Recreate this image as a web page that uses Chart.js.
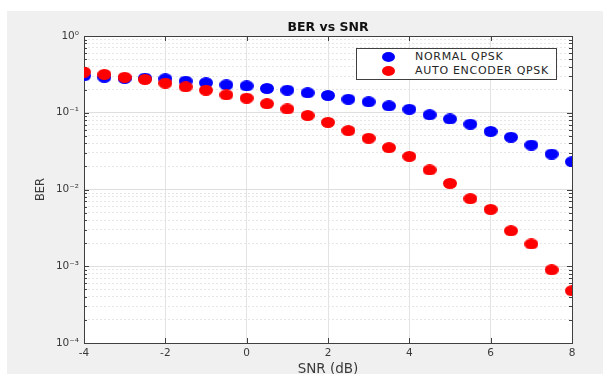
<!DOCTYPE html>
<html>
<head>
<meta charset="utf-8">
<script src="https://cdn.jsdelivr.net/npm/chart.js@4/dist/chart.umd.min.js"></script>
<style>
html, body { margin: 0; padding: 0; background: #fff; overflow: hidden; }
#wrap { position: relative; width: 603px; height: 380px; }
#legend { position: absolute; left: 356px; top: 48px; width: 199px; height: 30px; border: 1px solid #404040; background: #fff;
  font: 11px "DejaVu Sans", sans-serif; letter-spacing: 0.7px; color: #262626; }
.item { position: absolute; left: 0; height: 14px; line-height: 14px; white-space: nowrap; }
.dot { position: absolute; left: 25px; top: 2px; width: 13px; height: 10px; border-radius: 50%; }
.txt { position: absolute; left: 58px; top: 0; }
</style>
</head>
<body>
<div id="wrap">
  <canvas id="ber" width="603" height="380"></canvas>
  <div id="legend"></div>
</div>
<script>
// --- data ---
const snr = [-4, -3.5, -3, -2.5, -2, -1.5, -1, -0.5, 0, 0.5, 1, 1.5, 2, 2.5, 3, 3.5, 4, 4.5, 5, 5.5, 6, 6.5, 7, 7.5, 8];
const normalQpsk = [0.303, 0.29, 0.28, 0.283, 0.277, 0.258, 0.246, 0.231, 0.224, 0.207, 0.197, 0.182, 0.168,
  0.150, 0.139, 0.123, 0.111, 0.094, 0.083, 0.071, 0.057, 0.048, 0.038, 0.029, 0.023];
const autoEncoderQpsk = [0.339, 0.316, 0.29, 0.272, 0.243, 0.218, 0.197, 0.171, 0.155, 0.131, 0.112, 0.092, 0.075,
  0.0585, 0.0465, 0.0351, 0.027, 0.018, 0.012, 0.0076, 0.0055, 0.0029, 0.00195, 0.0009, 0.00048];
const seriesNames = ['NORMAL QPSK', 'AUTO ENCODER QPSK'];
const seriesColors = ['#0000ff', '#ff0000'];
const decades = [-4, -3, -2, -1, 0];
const xTicks = [-4, -2, 0, 2, 4, 6, 8];

const FONT = '"DejaVu Sans", "Liberation Sans", sans-serif';
const SUP = { '0': '\u2070', '1': '\u00b9', '2': '\u00b2', '3': '\u00b3', '4': '\u2074', '-': '\u207b' };
const isMajor = v => Math.abs(Math.log10(v) - Math.round(Math.log10(v))) < 1e-9;

// slightly squashed dots, like the stretched figure
function dotImage(color) {
    const c = document.createElement('canvas');
    c.width = 14; c.height = 11;
    const g = c.getContext('2d');
    g.fillStyle = color;
    g.beginPath(); g.ellipse(7, 5.5, 7, 5.5, 0, 0, Math.PI * 2); g.fill();
    return c;
}

// y tick positions: 1..9 x 10^e for every decade
const yTickVals = [];
decades.forEach(e => {
    if (e === 0) { yTickVals.push(1); return; }
    for (let m = 1; m <= 9; m++) yTickVals.push(+(m * Math.pow(10, e)).toPrecision(3));
});

const figureBg = {
    id: 'figureBg',
    beforeDraw(chart) {
        const { ctx, chartArea: a } = chart;
        ctx.save();
        ctx.fillStyle = '#fff';
        ctx.fillRect(0, 0, chart.width, chart.height);
        ctx.fillStyle = '#f0f0f0';
        ctx.fillRect(7, 11, chart.width - 7, chart.height - 11);
        ctx.fillStyle = '#fff';
        ctx.fillRect(a.left, a.top, a.right - a.left, a.bottom - a.top);
        ctx.restore();
    }
};

const axesBox = {
    id: 'axesBox',
    beforeDatasetsDraw(chart) {
        const { ctx, chartArea: a, scales } = chart;
        ctx.save();
        ctx.strokeStyle = '#404040';
        ctx.lineWidth = 1;
        ctx.beginPath();
        scales.x.ticks.forEach(t => {
            const px = Math.round(scales.x.getPixelForValue(t.value)) + 0.5;
            ctx.moveTo(px, a.bottom); ctx.lineTo(px, a.bottom - 5);
            ctx.moveTo(px, a.top); ctx.lineTo(px, a.top + 5);
        });
        scales.y.ticks.forEach(t => {
            const py = Math.round(scales.y.getPixelForValue(t.value)) + 0.5;
            const len = isMajor(t.value) ? 5 : 3;
            ctx.moveTo(a.left, py); ctx.lineTo(a.left + len, py);
            ctx.moveTo(a.right, py); ctx.lineTo(a.right - len, py);
        });
        ctx.stroke();
        ctx.strokeRect(Math.round(a.left) + 0.5, Math.round(a.top) + 0.5,
            Math.round(a.right - a.left), Math.round(a.bottom - a.top));
        ctx.restore();
    }
};

Chart.defaults.font.family = FONT;
Chart.defaults.color = '#3a3a3a';

const series = [normalQpsk, autoEncoderQpsk];
const chart = new Chart(document.getElementById('ber').getContext('2d'), {
    type: 'scatter',
    data: {
        datasets: series.map((vals, i) => ({
            label: seriesNames[i],
            data: snr.map((x, k) => ({ x: x, y: vals[k] })),
            pointStyle: dotImage(seriesColors[i]),
            backgroundColor: seriesColors[i],
            borderColor: seriesColors[i],
            order: 1 - i
        }))
    },
    options: {
        responsive: false,
        devicePixelRatio: 1,
        animation: false,
        layout: { padding: { left: 0, right: 31, top: 0, bottom: 0 } },
        plugins: {
            legend: { display: false },
            tooltip: { enabled: false },
            title: {
                display: true, text: 'BER vs SNR', fullSize: false, color: '#111',
                font: { size: 12.5, weight: 'bold', lineHeight: 1.2 },
                padding: { top: 20, bottom: 1 }
            }
        },
        scales: {
            x: {
                type: 'linear', min: -4, max: 8,
                afterBuildTicks: s => { s.ticks = xTicks.map(v => ({ value: v })); },
                afterFit: s => { s.height = 37; },
                ticks: { font: { size: 10.5 }, padding: 4, maxRotation: 0, autoSkip: false },
                grid: { color: '#e3e3e3', drawTicks: false },
                border: { display: false },
                title: { display: true, text: 'SNR (dB)', font: { size: 13.5, lineHeight: 1.2 }, padding: { top: 0, bottom: 2 } }
            },
            y: {
                type: 'logarithmic', min: 1e-4, max: 1,
                afterBuildTicks: s => { s.ticks = yTickVals.map(v => ({ value: v })); },
                afterFit: s => { s.width = 84; },
                ticks: {
                    font: { size: 10.5 }, padding: 5, autoSkip: false,
                    callback: v => {
                        if (!isMajor(v)) return '';
                        const e = String(Math.round(Math.log10(v)));
                        return '10' + e.split('').map(ch => SUP[ch]).join('');
                    }
                },
                grid: {
                    drawTicks: false,
                    color: ctx => isMajor(ctx.tick.value) ? '#dedede' : '#e6e6e6'
                },
                border: { display: false, dash: ctx => (ctx.tick && !isMajor(ctx.tick.value)) ? [2, 2] : [] },
                title: { display: true, text: 'BER', font: { size: 11.5, lineHeight: 1.2 }, padding: { top: 34 } }
            }
        }
    },
    plugins: [figureBg, axesBox]
});

// legend box inside the axes, built from the dataset labels
const lg = document.getElementById('legend');
chart.data.datasets.forEach((ds, i) => {
    const it = document.createElement('div');
    it.className = 'item';
    it.style.top = (1 + i * 14) + 'px';
    it.innerHTML = '<span class="dot" style="background:' + ds.backgroundColor + '"></span><span class="txt">' + ds.label + '</span>';
    lg.appendChild(it);
});
</script>
</body>
</html>
